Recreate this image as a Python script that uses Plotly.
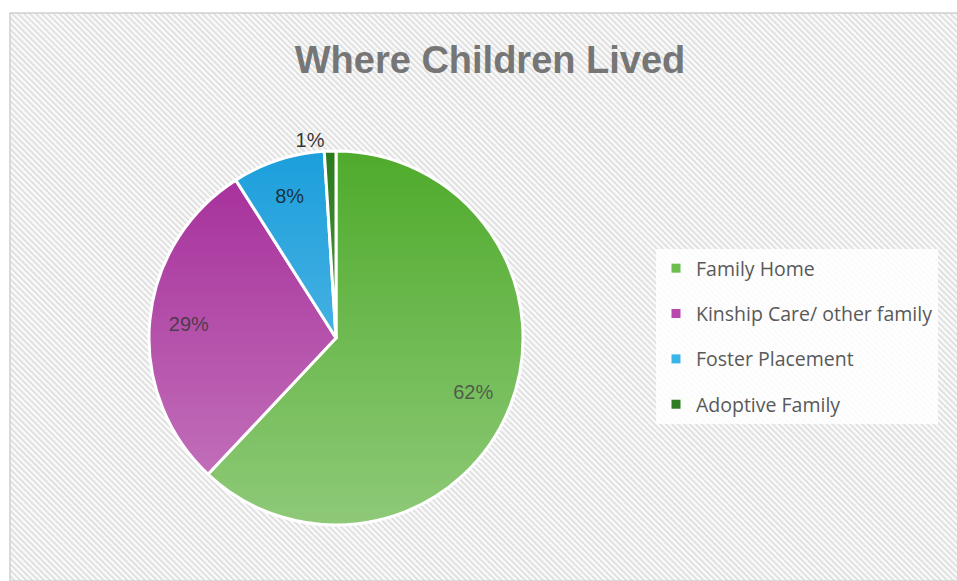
import base64
import plotly.graph_objects as go

# ---- data ----
categories = ["Family Home", "Kinship Care/ other family", "Foster Placement", "Adoptive Family"]
values = [62, 29, 8, 1]
slice_colors = ["#4fab2c", "#a52c99", "#1c9fdc", "#2c7a1e"]
legend_colors = ["#6cbf4f", "#b848ad", "#3ab3e6", "#2f7d22"]
text_positions = ["inside", "inside", "inside", "outside"]
title_text = "Where Children Lived"

W, H = 957, 581
ML, MT = 10, 13
PW, PH = W - ML, H - MT


def data_uri(svg):
    return "data:image/svg+xml;base64," + base64.b64encode(svg.encode()).decode()


# hatch background as an SVG image
bg_svg = (
    f"<svg xmlns='http://www.w3.org/2000/svg' width='{PW}' height='{PH}'>"
    "<defs><pattern id='p' width='4.2' height='4.2' patternUnits='userSpaceOnUse' "
    "patternTransform='rotate(-45)'><rect width='2' height='4.2' fill='#e0e0e0'/></pattern></defs>"
    "<rect width='100%' height='100%' fill='#fbfbfb'/>"
    "<rect width='100%' height='100%' fill='url(#p)'/></svg>"
)

# pie geometry (pixels) -> paper domain
cx, cy, r = 336, 338, 187
dom = dict(
    x=[(cx - r - ML) / PW, (cx + r - ML) / PW],
    y=[1 - (cy + r - MT) / PH, 1 - (cy - r - MT) / PH],
)

# soft vertical light gradient over the pie (shading only)
D = 2 * r
shade_svg = (
    f"<svg xmlns='http://www.w3.org/2000/svg' width='{D}' height='{D}' viewBox='0 0 {D} {D}'>"
    "<defs><linearGradient id='g' x1='0' y1='0' x2='0' y2='1'>"
    "<stop offset='0' stop-color='#ffffff' stop-opacity='0'/>"
    "<stop offset='1' stop-color='#ffffff' stop-opacity='0.36'/>"
    "</linearGradient></defs>"
    f"<circle cx='{r}' cy='{r}' r='{r - 1}' fill='url(#g)'/></svg>"
)

label_font = dict(family="Liberation Sans, Arial, sans-serif", size=20, color="rgba(15,15,15,0.85)")

fig = go.Figure()
# coloured slices
fig.add_trace(go.Pie(
    labels=categories, values=values, sort=False, direction="clockwise", rotation=0,
    marker=dict(colors=slice_colors, line=dict(color="#ffffff", width=3)),
    textinfo="none", domain=dom, automargin=False, showlegend=False,
    hoverinfo="label+percent",
))
# transparent ring that carries the percentage labels further out
fig.add_trace(go.Pie(
    labels=categories, values=values, sort=False, direction="clockwise", rotation=0,
    hole=0.58,
    marker=dict(colors=["rgba(0,0,0,0)"] * len(values), line=dict(width=0)),
    texttemplate="%{percent:.0%}", textposition=text_positions,
    insidetextorientation="horizontal", textfont=label_font,
    domain=dom, automargin=False, showlegend=False, hoverinfo="skip",
))
# legend entries
for cat, col in zip(categories, legend_colors):
    fig.add_trace(go.Scatter(
        x=[None], y=[None], mode="markers", name=cat, legendgroup=cat,
        marker=dict(symbol="square", size=9, color=col), hoverinfo="skip",
    ))

fig.update_layout(
    width=W, height=H,
    margin=dict(l=ML, t=MT, r=0, b=0, pad=0),
    paper_bgcolor="#ffffff",
    plot_bgcolor="rgba(0,0,0,0)",
    xaxis=dict(visible=False),
    yaxis=dict(visible=False),
    title=dict(
        text=f"<b>{title_text}</b>",
        x=(490 - ML) / PW, xref="paper", xanchor="center",
        y=1 - 60 / H, yref="container", yanchor="middle",
        font=dict(family="Liberation Sans, Arial, sans-serif", size=38, color="#767676"),
    ),
    showlegend=True,
    legend=dict(
        x=(656 - ML) / PW, xanchor="left",
        y=1 - (249 - MT) / PH, yanchor="top",
        bgcolor="rgba(255,255,255,0.85)",
        borderwidth=0,
        font=dict(family="Open Sans, sans-serif", size=19.5, color="#595959"),
        traceorder="grouped",
        tracegroupgap=17,
    ),
    images=[
        dict(source=data_uri(bg_svg), xref="paper", yref="paper", x=0, y=1, sizex=1, sizey=1,
             xanchor="left", yanchor="top", sizing="stretch", layer="below"),
        dict(source=data_uri(shade_svg), xref="paper", yref="paper",
             x=dom["x"][0], y=dom["y"][1], sizex=dom["x"][1] - dom["x"][0], sizey=dom["y"][1] - dom["y"][0],
             xanchor="left", yanchor="top", sizing="stretch", layer="above"),
    ],
    shapes=[dict(
        type="rect", xref="paper", yref="paper", x0=0, y0=0, x1=1.01, y1=1,
        line=dict(color="#d0d0d0", width=1.5), fillcolor="rgba(0,0,0,0)", layer="below",
    )],
)

fig.write_html("out.html")
